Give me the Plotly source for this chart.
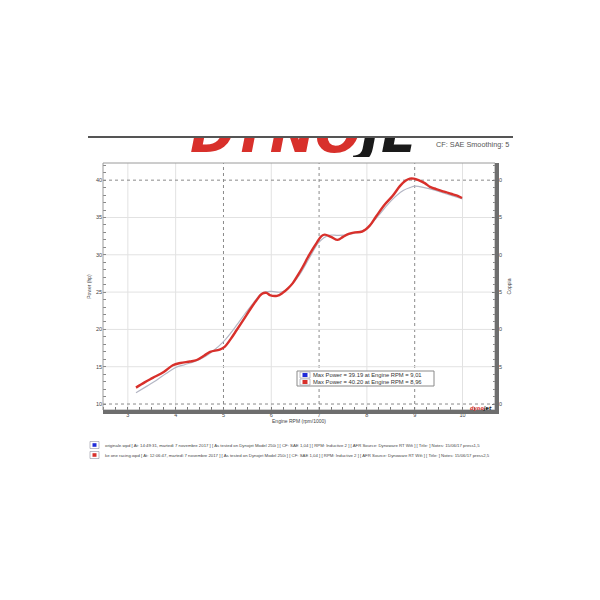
import plotly.graph_objects as go

# ---- data ----
rpm_red = [3.17, 3.35, 3.52, 3.75, 3.94, 4.1, 4.3, 4.44, 4.6, 4.72, 4.92, 5.03, 5.15, 5.28, 5.42, 5.55,
           5.68, 5.8, 5.9, 5.97, 6.12, 6.24, 6.35, 6.45, 6.56, 6.66, 6.76, 6.85, 6.95, 7.05, 7.12, 7.25,
           7.39, 7.5, 7.62, 7.75, 7.9, 8.06, 8.2, 8.37, 8.54, 8.69, 8.8, 8.9, 8.98, 9.08, 9.21, 9.32,
           9.45, 9.59, 9.7, 9.8, 9.9, 9.99]
hp_red = [12.2, 12.9, 13.5, 14.3, 15.2, 15.5, 15.7, 15.9, 16.5, 17.0, 17.3, 17.7, 18.7, 19.95, 21.3, 22.6,
          23.8, 24.75, 24.9, 24.6, 24.5, 24.9, 25.5, 26.2, 27.3, 28.4, 29.6, 30.6, 31.6, 32.5, 32.7, 32.4,
          32.0, 32.4, 32.8, 33.0, 33.1, 33.9, 35.2, 36.7, 37.9, 39.2, 39.9, 40.2, 40.2, 40.0, 39.6, 39.1,
          38.8, 38.5, 38.3, 38.1, 37.9, 37.6]

rpm_gray = [3.17, 3.4, 3.6, 3.8, 4.0, 4.2, 4.4, 4.6, 4.8, 4.99, 5.15, 5.28, 5.45, 5.62, 5.82, 6.0, 6.2,
            6.4, 6.6, 6.8, 7.0, 7.2, 7.4, 7.6, 7.8, 8.0, 8.13, 8.3, 8.5, 8.76, 8.9, 9.01, 9.2, 9.4,
            9.6, 9.8, 10.0]
hp_gray = [11.5, 12.4, 13.2, 14.1, 14.9, 15.3, 15.7, 16.3, 17.2, 18.3, 19.5, 20.6, 22.1, 23.5, 24.9,
           25.1, 25.0, 25.8, 27.4, 29.6, 31.7, 32.6, 32.6, 32.7, 33.0, 33.5, 34.4, 35.7, 37.2, 38.6,
           39.0, 39.19, 39.0, 38.7, 38.3, 37.9, 37.5]

x_ticks = [3, 4, 5, 6, 7, 8, 9, 10]
y_ticks = [10, 15, 20, 25, 30, 35, 40]
legend_names = ["Max Power = 39.19 at Engine RPM = 9,01", "Max Power = 40.20 at Engine RPM = 8,96"]
run_notes = [
    "originale.wpd [ At: 14:49:31, martedì 7 novembre 2017 ] [ As tested on Dynojet Model 250i ] [ CF: SAE 1,04 ] [ RPM: Inductive 2 ] [ AFR Source: Dynoware RT Wifi ] [ Title: ] Notes: 15/06/17 press1,5",
    "ke one racing.wpd [ At: 12:06:47, martedì 7 novembre 2017 ] [ As tested on Dynojet Model 250i ] [ CF: SAE 1,04 ] [ RPM: Inductive 2 ] [ AFR Source: Dynoware RT Wifi ] [ Title: ] Notes: 15/06/17 press2,5",
]

RED = "#d8302b"
GRAY = "#b4b6c4"
BLUE = "#1f2bd8"

# layout geometry (page pixels -> paper)
L, R, T, B = 95, 113, 120, 198
PW, PH = 600 - L - R, 600 - T - B
def px(xp):
    return (xp - 8 - L) / PW
def py(yp):
    return (600 - B - (yp - 8)) / PH
main_top = py(163)

fig = go.Figure()
fig.add_trace(go.Scatter(x=rpm_gray, y=hp_gray, mode="lines", line=dict(color=GRAY, width=1.2, shape="spline"),
                         showlegend=False, hoverinfo="skip"))
fig.add_trace(go.Scatter(x=rpm_red, y=hp_red, mode="lines", line=dict(color=RED, width=2.4, shape="spline"),
                         showlegend=False, hoverinfo="skip"))
fig.add_trace(go.Scatter(x=[None], y=[None], yaxis="y2", showlegend=False))
# clipped logo (only the part visible in the scan)
fig.add_trace(go.Scatter(x=[0], y=[0.95], xaxis="x3", yaxis="y3", mode="text", cliponaxis=True,
                         text=["<b><i><span style='color:#d8302b'>DYNO</span><span style='color:#1a1a1a'>JE</span></i></b>"],
                         textposition="middle right", textfont=dict(family="DejaVu Sans", size=54),
                         showlegend=False, hoverinfo="skip"))

xr = [2.48, 10.68]
yr = [9.2, 42.3]

shapes = []
for v in x_ticks:
    dashed = v in (5, 7, 9)
    shapes.append(dict(type="line", xref="x", yref="paper", x0=v, x1=v, y0=0, y1=main_top, layer="below",
                       line=dict(color="#8a8a8a" if dashed else "#e2e2e2", width=1, dash="dot" if dashed else "solid")))
for v in y_ticks:
    dashed = v in (10, 40)
    shapes.append(dict(type="line", xref="paper", yref="y", x0=0, x1=1, y0=v, y1=v, layer="below",
                       line=dict(color="#8a8a8a" if dashed else "#e2e2e2", width=1, dash="dot" if dashed else "solid")))
# frame
shapes.append(dict(type="rect", xref="paper", yref="paper", x0=0, x1=1, y0=0, y1=main_top,
                   line=dict(color="#9a9a9a", width=1)))
shapes.append(dict(type="line", xref="paper", yref="paper", x0=px(497), x1=px(497), y0=py(413), y1=py(163),
                   line=dict(color="#6e6e6e", width=4)))
shapes.append(dict(type="line", xref="paper", yref="paper", x0=px(103), x1=px(499), y0=py(412), y1=py(412),
                   line=dict(color="#6e6e6e", width=4)))
# header line
shapes.append(dict(type="line", xref="paper", yref="paper", x0=px(88), x1=px(513), y0=py(137), y1=py(137),
                   line=dict(color="#555555", width=2)))
# in-plot legend box
shapes.append(dict(type="rect", xref="paper", yref="paper", x0=px(297), x1=px(434), y0=py(386), y1=py(371),
                   line=dict(color="#8a8a8a", width=1), fillcolor="white"))
annotations = []
for i, (c, name) in enumerate(zip([BLUE, RED], legend_names)):
    yc = 375 + i * 7
    shapes.append(dict(type="rect", xref="paper", yref="paper", x0=px(300), x1=px(310), y0=py(yc + 3), y1=py(yc - 3),
                       line=dict(color="#9090a0", width=0.6), fillcolor="white"))
    shapes.append(dict(type="rect", xref="paper", yref="paper", x0=px(302.5), x1=px(307.5), y0=py(yc + 2), y1=py(yc - 2),
                       line=dict(width=0), fillcolor=c))
    annotations.append(dict(xref="paper", yref="paper", x=px(311), y=py(yc), xanchor="left", yanchor="middle",
                            text=name, showarrow=False,
                            font=dict(family="Liberation Sans", size=5.8, color="#333333")))
# bottom note markers + text
for i, (c, t) in enumerate(zip([BLUE, RED], run_notes)):
    yc = 445 + i * 10
    shapes.append(dict(type="rect", xref="paper", yref="paper", x0=px(90), x1=px(99), y0=py(yc + 3.5), y1=py(yc - 3.5),
                       line=dict(color="#9090a0", width=0.6), fillcolor="white"))
    shapes.append(dict(type="rect", xref="paper", yref="paper", x0=px(92.5), x1=px(96.5), y0=py(yc + 1.8), y1=py(yc - 1.8),
                       line=dict(width=0), fillcolor=c))
    annotations.append(dict(xref="paper", yref="paper", x=px(103), y=py(yc), xanchor="left",
                            yanchor="middle", text=t, showarrow=False,
                            font=dict(family="Liberation Sans", size=4.3, color="#444444")))

annotations += [
    dict(xref="paper", yref="paper", x=px(511), y=py(144), xanchor="right", yanchor="middle",
         text="CF: SAE Smoothing: 5", showarrow=False,
         font=dict(family="Liberation Sans", size=7.3, color="#555555")),
    dict(xref="paper", yref="paper", x=px(494), y=py(408), xanchor="right", yanchor="middle",
         text="<b><i><span style='color:#d8302b'>dyno</span><span style='color:#222'>jet</span></i></b>",
         showarrow=False, font=dict(family="DejaVu Sans", size=5)),
]

tick_font = dict(family="Liberation Sans", size=5.5, color="#444")
fig.update_layout(
    width=600, height=600, paper_bgcolor="white", plot_bgcolor="white",
    margin=dict(l=L, r=R, t=T, b=B),
    showlegend=False,
    xaxis=dict(range=xr, tickvals=x_ticks, showgrid=False, zeroline=False, showline=False,
               ticks="", tickfont=tick_font, domain=[0, 1], anchor="y",
               minor=dict(dtick=0.25, ticks="inside", ticklen=3, tickcolor="#777"),
               title=dict(text="Engine RPM (rpm/1000)", font=dict(family="Liberation Sans", size=5, color="#444"),
                          standoff=2)),
    yaxis=dict(range=yr, tickvals=y_ticks, showgrid=False, zeroline=False, showline=False, domain=[0, main_top],
               ticks="", tickfont=tick_font,
               minor=dict(dtick=1, ticks="inside", ticklen=3, tickcolor="#888"),
               title=dict(text="Power (hp)", font=dict(family="Liberation Sans", size=5, color="#444"), standoff=4)),
    yaxis2=dict(range=yr, tickvals=y_ticks, overlaying="y", side="right", showgrid=False, zeroline=False,
                ticks="inside", ticklen=3, tickcolor="#777", tickfont=tick_font,
                minor=dict(dtick=1, ticks="inside", ticklen=2, tickcolor="#888"),
                title=dict(text="Coppia", font=dict(family="Liberation Sans", size=5, color="#444"), standoff=6)),
    xaxis3=dict(domain=[px(190), px(418)], range=[0, 1], visible=False, anchor="y3"),
    yaxis3=dict(domain=[py(157), py(138)], range=[0, 1], visible=False, anchor="x3"),
    shapes=shapes,
    annotations=annotations,
)

fig.write_html("out.html")
